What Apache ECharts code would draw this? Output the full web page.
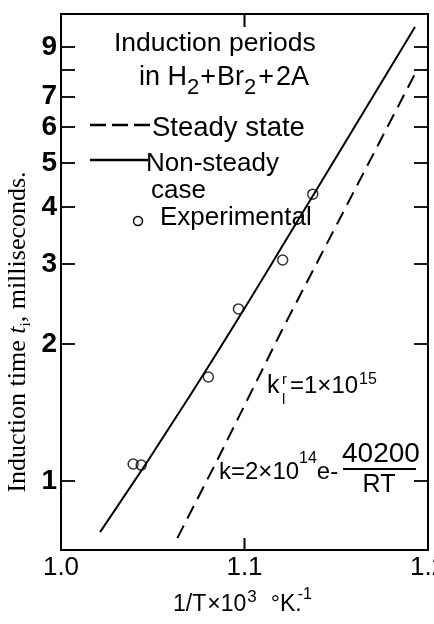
<!DOCTYPE html>
<html>
<head>
<meta charset="utf-8">
<script src="https://cdn.jsdelivr.net/npm/echarts@6.0.0/dist/echarts.min.js"></script>
<style>
  html, body { margin: 0; padding: 0; background: #fff; }
  #c { width: 434px; height: 624px; }
</style>
</head>
<body>
<div id="c"></div>
<script>
// ---- data ----
const xTickValues = [1.0, 1.1, 1.2];
const xInnerTicks = [1.1];
const yTickValues = [1, 2, 3, 4, 5, 6, 7, 8, 9];
const yLabelValues = [1, 2, 3, 4, 5, 6, 7, 9];
const yRange = [0.7053, 10.626];

const nonSteadyX = [1.0213, 1.0705, 1.1372, 1.1929];
const nonSteadyY = [0.772, 1.545, 4.23, 9.95];

const steadyX = [1.0634, 1.0852, 1.1202, 1.1934];
const steadyY = [0.749, 1.112, 2.137, 7.92];

const expX = [1.0393, 1.0437, 1.0803, 1.0967, 1.1208, 1.1372];
const expY = [1.09, 1.084, 1.693, 2.389, 3.06, 4.27];

// ---- helpers ----
const zip = (a, b) => a.map((v, i) => [v, b[i]]);
const SANS = '"Liberation Sans", Arial, sans-serif';
const SERIF = '"Liberation Serif", "Times New Roman", serif';

const mctx = document.createElement('canvas').getContext('2d');
function W(text, fs, fam) { mctx.font = fs + 'px ' + (fam || SANS); return mctx.measureText(text).width; }

function T(x, baseline, text, fs, opts) {
  opts = opts || {};
  const k = opts.serif ? 0.3375 : 0.3465;
  return {
    type: 'text', x: x, y: baseline - k * fs, z: 20,
    style: {
      text: text, fontSize: fs, fontFamily: opts.serif ? SERIF : SANS,
      fill: '#000', align: opts.align || 'left', verticalAlign: 'middle',
      fontStyle: opts.italic ? 'italic' : 'normal',
      fontWeight: opts.bold ? 'bold' : 'normal'
    }
  };
}
function run(x, baseline, parts) {
  const out = [];
  let cx = x;
  parts.forEach(p => {
    cx += (p.gap || 0);
    out.push(T(cx, baseline + (p.dy || 0), p.t, p.fs));
    cx += W(p.t, p.fs);
  });
  return out;
}

const chart = echarts.init(document.getElementById('c'), null, { renderer: 'canvas' });

const graphics = [].concat(
  [T(114, 53, 'Induction periods', 26.5)],
  run(139, 87, [
    { t: 'in ', fs: 27 }, { t: 'H', fs: 27 }, { t: '2', fs: 22, dy: 9 },
    { t: '+', fs: 27, gap: 1 }, { t: 'Br', fs: 27, gap: 1 }, { t: '2', fs: 22, dy: 9 },
    { t: '+', fs: 27, gap: 2 }, { t: '2A', fs: 27, gap: 2 }
  ]),
  [
    { type: 'line', z: 20, shape: { x1: 90, y1: 125, x2: 150, y2: 125 },
      style: { stroke: '#000', lineWidth: 2.5, lineDash: [16, 6] } },
    T(152, 138, 'Steady state', 27.5),
    { type: 'line', z: 20, shape: { x1: 90, y1: 160, x2: 148, y2: 160 },
      style: { stroke: '#000', lineWidth: 2.5 } },
    T(146, 173, 'Non-steady', 26),
    T(151, 200, 'case', 26),
    { type: 'circle', z: 20, shape: { cx: 138, cy: 221, r: 4.5 },
      style: { fill: 'none', stroke: '#000', lineWidth: 1.5 } },
    T(160, 227, 'Experimental', 26),
    T(267, 395, 'k', 25),
    T(282, 385, 'r', 15),
    T(282, 405, 'l', 15),
    T(290, 395, '=1×10', 24),
    T(359, 385, '15', 16)
  ],
  run(219, 481, [
    { t: 'k=2×10', fs: 24 }, { t: '14', fs: 16, dy: -17 }, { t: 'e-', fs: 24 }
  ]),
  [
    T(342, 464, '40200', 28),
    { type: 'line', z: 20, shape: { x1: 343, y1: 469, x2: 416, y2: 469 },
      style: { stroke: '#000', lineWidth: 2 } },
    T(379, 494, 'RT', 25, { align: 'center' })
  ],
  run(173, 613, [
    { t: '1/T', fs: 23 }, { t: '×', fs: 23, gap: 1 }, { t: '10', fs: 23, gap: 0 },
    { t: '3', fs: 17, dy: -10, gap: 1 }, { t: '°K.', fs: 23, gap: 14 },
    { t: '-1', fs: 16, dy: -13, gap: -4 }
  ]),
  [
    {
      type: 'text', x: 18, y: 332, rotation: Math.PI / 2, z: 20,
      style: {
        text: 'Induction time {it|t}{sub|i}, milliseconds.',
        fontSize: 26, fontFamily: SERIF, fill: '#000',
        align: 'center', verticalAlign: 'middle', lineHeight: 32,
        rich: {
          it: { fontStyle: 'italic', fontSize: 26, fontFamily: SERIF, fill: '#000' },
          sub: { fontSize: 15, fontFamily: SERIF, fill: '#000', verticalAlign: 'bottom', lineHeight: 15 }
        }
      }
    }
  ]
);

function yAxisDef(position, showLabel) {
  return {
    type: 'log', logBase: 10, min: yRange[0], max: yRange[1], position: position,
    axisLine: { show: true, onZero: false, lineStyle: { color: '#000', width: 2 } },
    splitLine: { show: false },
    minorTick: { show: false },
    axisTick: { show: true, inside: true, length: 14, customValues: yTickValues.slice(),
                lineStyle: { color: '#000', width: 1.8 } },
    axisLabel: showLabel
      ? { color: '#000', fontSize: 28, fontWeight: 'bold', fontFamily: SANS, margin: 4,
          customValues: yLabelValues.slice(), formatter: v => String(Math.round(v)) }
      : { show: false }
  };
}

function xAxisDef(position, showLabel) {
  return {
    type: 'value', min: xTickValues[0], max: xTickValues[xTickValues.length - 1], interval: 0.1,
    position: position,
    axisLine: { show: true, onZero: false, lineStyle: { color: '#000', width: 2 } },
    splitLine: { show: false },
    axisTick: { show: false },
    axisLabel: showLabel
      ? { color: '#000', fontSize: 26, fontFamily: SANS, margin: 5, formatter: v => v.toFixed(1) }
      : { show: false }
  };
}

// inward x ticks at 1.1 on bottom and top edges, placed through the axis scales
function renderInnerTick(params, api) {
  const xv = api.value(0);
  const pb = api.coord([xv, yRange[0]]);
  const pt = api.coord([xv, yRange[1]]);
  const st = { stroke: '#000', lineWidth: 2 };
  return {
    type: 'group',
    children: [
      { type: 'line', shape: { x1: pb[0], y1: pb[1], x2: pb[0], y2: pb[1] - 12 }, style: st },
      { type: 'line', shape: { x1: pt[0], y1: pt[1], x2: pt[0], y2: pt[1] + 13 }, style: st }
    ]
  };
}

const option = {
  backgroundColor: '#fff',
  animation: false,
  grid: { left: 61, top: 14, width: 367, height: 536, show: true,
          outerBoundsMode: 'none', containLabel: false,
          borderColor: '#000', borderWidth: 2, backgroundColor: 'transparent' },
  xAxis: [ xAxisDef('bottom', true), xAxisDef('top', false) ],
  yAxis: [ yAxisDef('left', true), yAxisDef('right', false) ],
  series: [
    { name: 'Non-steady case', type: 'line', xAxisIndex: 0, yAxisIndex: 0,
      data: zip(nonSteadyX, nonSteadyY), showSymbol: false, smooth: 0.5,
      lineStyle: { color: '#000', width: 2 } },
    { name: 'Steady state', type: 'line', xAxisIndex: 0, yAxisIndex: 0,
      data: zip(steadyX, steadyY), showSymbol: false,
      lineStyle: { color: '#000', width: 2, type: [14, 8] } },
    { name: 'Experimental', type: 'scatter', xAxisIndex: 0, yAxisIndex: 0,
      data: zip(expX, expY), symbol: 'circle', symbolSize: 10, z: 5,
      itemStyle: { color: 'rgba(0,0,0,0)', borderColor: '#000', borderWidth: 1.5 } },
    { name: 'x inner ticks', type: 'custom', xAxisIndex: 0, yAxisIndex: 0,
      clip: false, silent: true, z: 10,
      data: xInnerTicks.map(v => [v, yRange[0]]),
      renderItem: renderInnerTick }
  ],
  graphic: graphics
};

chart.setOption(option);
</script>
</body>
</html>
